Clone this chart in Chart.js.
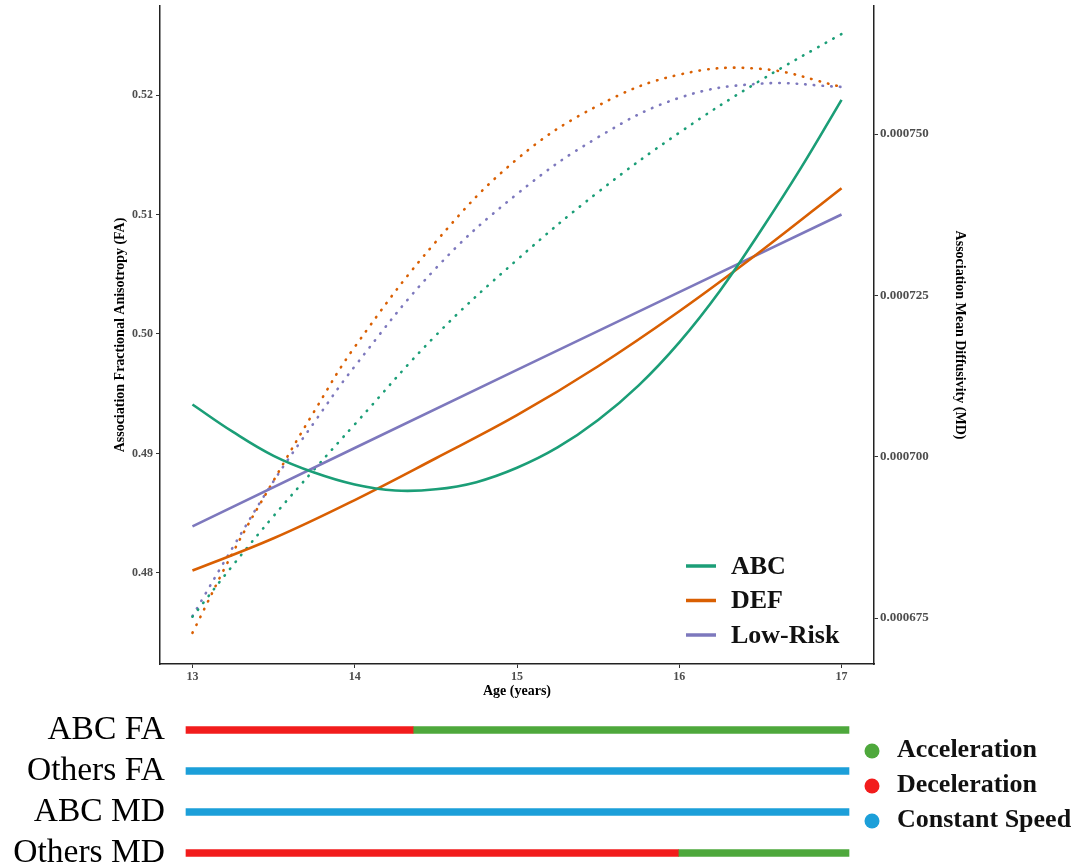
<!DOCTYPE html>
<html>
<head>
<meta charset="utf-8">
<script src="https://cdn.jsdelivr.net/npm/chart.js@4.4.1/dist/chart.umd.min.js"></script>
<style>
  html, body { margin: 0; padding: 0; background: #fff; overflow: hidden; }
  #wrap { position: relative; width: 1081px; height: 867px; }
  #mainBox { position: absolute; left: 0; top: 0; width: 1081px; height: 705px; }
  #speedBox { position: absolute; left: 0; top: 700px; width: 1081px; height: 167px; }
</style>
</head>
<body>
<div id="wrap">
  <div id="mainBox"><canvas id="trajChart"></canvas></div>
  <div id="speedBox"><canvas id="speedChart"></canvas></div>
</div>
<script>
// ---- data ----
const xTicks = [13, 14, 15, 16, 17];
const faTicks = [0.48, 0.49, 0.50, 0.51, 0.52];
const mdTicks = [0.000675, 0.000700, 0.000725, 0.000750];

// FA curves (solid, left axis)
const ageAbcFA = [13, 13.25, 13.5, 13.75, 14, 14.25, 14.5, 14.75, 15, 15.25, 15.5, 15.75, 16, 16.25, 16.5, 16.75, 17];
const abcFA = [0.4941, 0.4918, 0.4898, 0.4884, 0.4874, 0.4869, 0.4870, 0.4876, 0.4888, 0.4905, 0.4928, 0.4957, 0.4993, 0.5036, 0.5086, 0.5139, 0.5196];
const ageDefFA = [13, 13.5, 14, 14.5, 15, 15.5, 16, 16.5, 17];
const defFA = [0.4802, 0.4829, 0.4861, 0.4896, 0.4932, 0.4973, 0.5019, 0.5069, 0.5122];
const ageLowFA = [13, 15, 17];
const lowFA = [0.4839, 0.4970, 0.5100];

// MD curves (dotted, right axis)
const ageMD = [13, 13.25, 13.5, 13.75, 14, 14.5, 15, 15.5, 16, 16.5, 17];
const abcMD = [0.0006752, 0.0006832, 0.0006908, 0.0006980, 0.0007050, 0.0007188, 0.0007305, 0.0007410, 0.0007502, 0.0007583, 0.0007655];
const defMD = [0.0006727, 0.0006852, 0.0006963, 0.0007070, 0.0007170, 0.0007333, 0.0007461, 0.0007544, 0.0007592, 0.0007601, 0.0007573];
const lowMD = [0.0006753, 0.0006860, 0.0006962, 0.0007053, 0.0007140, 0.0007292, 0.0007407, 0.0007495, 0.0007556, 0.0007578, 0.0007573];

const groupNames = ['ABC', 'DEF', 'Low-Risk'];
const groupColors = ['#1b9e77', '#d95f02', '#7d78bd'];

// speed panel
const speedRows = ['ABC FA', 'Others FA', 'ABC MD', 'Others MD'];
const decelRanges = [[13, 14.37], null, null, [13, 15.97]];
const accelRanges = [[14.37, 17], null, null, [15.97, 17]];
const constRanges = [null, [13, 17], [13, 17], null];
const speedLegend = ['Acceleration', 'Deceleration', 'Constant Speed'];
const speedColors = { 'Acceleration': '#4ea83c', 'Deceleration': '#f21c1c', 'Constant Speed': '#1c9fd9' };

const serif = "'Liberation Serif', 'DejaVu Serif', serif";
Chart.defaults.font.family = serif;

function pts(ages, vals) {
    return ages.map((a, i) => ({ x: a, y: vals[i] }));
}

function solid(i, ages, vals) {
    return {
        label: groupNames[i] + ' FA',
        data: pts(ages, vals),
        yAxisID: 'yFA',
        borderColor: groupColors[i],
        borderWidth: 2.6,
        tension: 0.4,
        pointRadius: 0
    };
}

function dotted(i, ages, vals) {
    return {
        label: groupNames[i] + ' MD',
        data: pts(ages, vals),
        yAxisID: 'yMD',
        borderColor: groupColors[i],
        borderWidth: 2.6,
        borderDash: [0.5, 8.2],
        borderCapStyle: 'round',
        tension: 0.4,
        pointRadius: 0
    };
}

// legend drawn inside the plot, bottom right
const lineLegend = {
    id: 'lineLegend',
    afterDraw(chart) {
        const { ctx, chartArea } = chart;
        const x0 = chartArea.right - 188;
        const y0 = chartArea.bottom - 98;
        ctx.save();
        ctx.font = 'bold 26px ' + serif;
        ctx.textBaseline = 'middle';
        groupNames.forEach((name, i) => {
            const y = y0 + i * 34.5;
            ctx.strokeStyle = groupColors[i];
            ctx.lineWidth = 3.5;
            ctx.beginPath();
            ctx.moveTo(x0, y);
            ctx.lineTo(x0 + 30, y);
            ctx.stroke();
            ctx.fillStyle = '#111';
            ctx.fillText(name, x0 + 45, y + 1);
        });
        ctx.restore();
    }
};

const tickFont = { size: 12, weight: 'bold', lineHeight: 0.5 };
const titleFont = { size: 14, weight: 'bold' };
const tickGrid = { drawOnChartArea: false, drawTicks: true, tickLength: 4, color: '#333', lineWidth: 1 };
const axisBorder = { display: true, color: '#222', width: 1.5 };

new Chart(document.getElementById('trajChart'), {
    type: 'line',
    data: {
        datasets: [
            solid(0, ageAbcFA, abcFA),
            solid(1, ageDefFA, defFA),
            solid(2, ageLowFA, lowFA),
            dotted(0, ageMD, abcMD),
            dotted(1, ageMD, defMD),
            dotted(2, ageMD, lowMD)
        ]
    },
    options: {
        responsive: true,
        maintainAspectRatio: false,
        animation: false,
        layout: { padding: { left: 108, right: 109, top: 6, bottom: 0 } },
        plugins: { legend: { display: false }, tooltip: { enabled: false } },
        scales: {
            x: {
                type: 'linear',
                min: 12.8,
                max: 17.2,
                afterBuildTicks: s => { s.ticks = xTicks.map(v => ({ value: v })); },
                afterFit: s => { s.height = 41; },
                ticks: { color: '#4d4d4d', font: { size: 12, weight: 'bold' }, padding: 2, callback: v => String(v) },
                grid: tickGrid,
                border: axisBorder,
                title: { display: true, text: 'Age (years)', color: '#000', font: titleFont, padding: { top: 0, bottom: 5 } }
            },
            yFA: {
                type: 'linear',
                position: 'left',
                min: 0.47238,
                max: 0.52745,
                afterBuildTicks: s => { s.ticks = faTicks.map(v => ({ value: v })); },
                afterFit: s => { s.width = 52; },
                ticks: { color: '#4d4d4d', font: tickFont, padding: 3, callback: v => v.toFixed(2) },
                grid: tickGrid,
                border: axisBorder,
                title: { display: true, text: 'Association Fractional Anisotropy (FA)', color: '#000', font: titleFont }
            },
            yMD: {
                type: 'linear',
                position: 'right',
                min: 0.000667872,
                max: 0.000769835,
                afterBuildTicks: s => { s.ticks = mdTicks.map(v => ({ value: v })); },
                afterFit: s => { s.width = 98; },
                ticks: { color: '#4d4d4d', font: { size: 13, weight: 'bold', lineHeight: 0.5 }, padding: 2, callback: v => v.toFixed(6) },
                grid: tickGrid,
                border: axisBorder,
                title: { display: true, text: 'Association Mean Diffusivity (MD)', color: '#000', font: titleFont }
            }
        }
    },
    plugins: [lineLegend]
});

// legend for speed panel
const speedLegendPlugin = {
    id: 'speedLegend',
    afterDraw(chart) {
        const { ctx, chartArea } = chart;
        const cx = chartArea.right + 23;
        ctx.save();
        ctx.font = 'bold 26px ' + serif;
        ctx.textBaseline = 'middle';
        speedLegend.forEach((name, i) => {
            const y = 51 + i * 35;
            ctx.fillStyle = speedColors[name];
            ctx.beginPath();
            ctx.arc(cx, y, 7.5, 0, Math.PI * 2);
            ctx.fill();
            ctx.fillStyle = '#111';
            ctx.fillText(name, cx + 25, y - 1);
        });
        ctx.restore();
    }
};

new Chart(document.getElementById('speedChart'), {
    type: 'bar',
    data: {
        labels: speedRows,
        datasets: [
            { label: 'Deceleration', data: decelRanges, backgroundColor: speedColors['Deceleration'] },
            { label: 'Acceleration', data: accelRanges, backgroundColor: speedColors['Acceleration'] },
            { label: 'Constant Speed', data: constRanges, backgroundColor: speedColors['Constant Speed'] }
        ]
    },
    options: {
        indexAxis: 'y',
        responsive: true,
        maintainAspectRatio: false,
        animation: false,
        datasets: { bar: { grouped: false, barThickness: 7, borderWidth: 0, clip: false } },
        layout: { padding: { left: 0, right: 232, top: 30, bottom: 14 } },
        plugins: { legend: { display: false }, tooltip: { enabled: false } },
        scales: {
            // chart area starts at the labels' right edge; 13 sits 21px further right
            x: { type: 'linear', min: 12.8733, max: 17, display: false },
            y: {
                type: 'category',
                offset: false,
                afterFit: s => { s.width = 165; },
                grid: { display: false, drawTicks: false },
                border: { display: false },
                ticks: { padding: 0, color: '#000', font: { size: 33.5, lineHeight: 0.8 } }
            }
        }
    },
    plugins: [speedLegendPlugin]
});
</script>
</body>
</html>
